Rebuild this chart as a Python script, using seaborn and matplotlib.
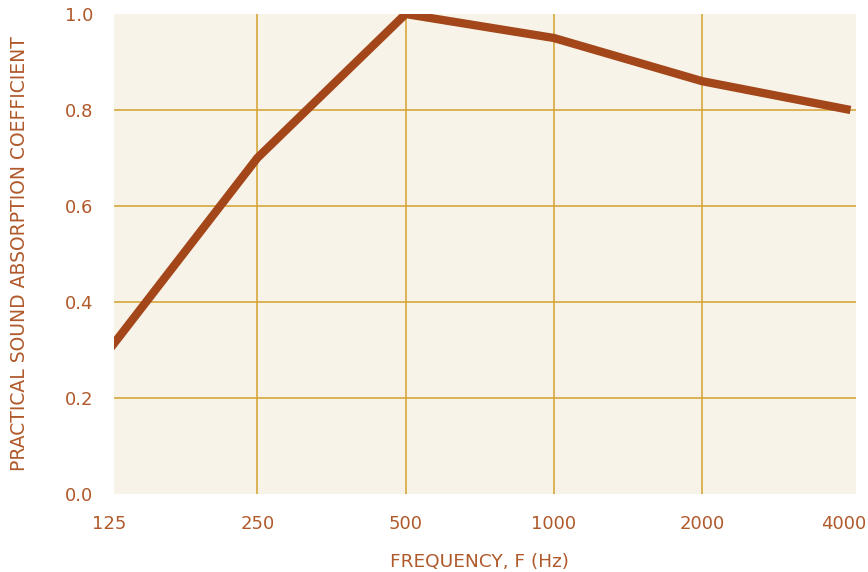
import numpy as np
import pandas as pd
import seaborn as sns
import matplotlib.pyplot as plt
import matplotlib.transforms as mtransforms
from matplotlib.ticker import FixedLocator, FixedFormatter, NullLocator

freqs = [125, 250, 500, 1000, 2000, 4000]
absorption = [0.30, 0.70, 1.00, 0.95, 0.86, 0.80]
y_ticks = [0.0, 0.2, 0.4, 0.6, 0.8, 1.0]

LINE = '#A3471A'
TEXT = '#B0592B'
GRID = '#D6A02E'
BG = '#F8F3E9'

sns.set_theme(style='white')
plt.rcParams['font.family'] = ['DejaVu Sans']

df = pd.DataFrame({'freq': freqs, 'alpha': absorption})

fig = plt.figure(figsize=(8.68, 5.72), dpi=100)
ax = fig.add_axes([114 / 868, 78 / 572, 742 / 868, 480 / 572])
ax.set_facecolor(BG)

sns.lineplot(data=df, x='freq', y='alpha', ax=ax, color=LINE, linewidth=6,
             solid_capstyle='butt', zorder=3)

# octave spacing ~148 px, 125 Hz sits just left of the panel
ax.set_xscale('log', base=2)
ax.set_xlim(125 * 2 ** (5 / 148.3), 4000 * 2 ** (5.5 / 148.3))
ax.set_ylim(0, 1.0)
ax.xaxis.set_major_locator(FixedLocator(freqs))
ax.xaxis.set_major_formatter(FixedFormatter([str(f) for f in freqs]))
ax.xaxis.set_minor_locator(NullLocator())
ax.set_yticks(y_ticks)
ax.set_yticklabels([f'{v:.1f}' for v in y_ticks])

ax.grid(True, color=GRID, linewidth=1.1, zorder=1)
ax.set_axisbelow(True)
# only interior grid lines
for gl in [ax.xaxis.get_gridlines()[-1], ax.yaxis.get_gridlines()[0], ax.yaxis.get_gridlines()[-1]]:
    gl.set_visible(False)
for s in ax.spines.values():
    s.set_visible(False)

ax.tick_params(axis='both', length=0, colors=TEXT, labelsize=13)
ax.tick_params(axis='x', pad=15)
ax.tick_params(axis='y', pad=15)

# last label sits a little left so it stays on the canvas
last = ax.xaxis.get_ticklabels()[-1]
last.set_transform(last.get_transform() + mtransforms.ScaledTranslation(-7 / 100, 0, fig.dpi_scale_trans))

# first tick falls outside the view limits, so label it by hand
ax.annotate(str(freqs[0]), xy=(freqs[0], 0), xycoords=('data', 'axes fraction'),
            xytext=(0, -15), textcoords='offset points', ha='center', va='top',
            color=TEXT, fontsize=13, annotation_clip=False)

ax.set_xlabel('FREQUENCY, F (Hz)', color=TEXT, fontsize=13.3, labelpad=14)
ax.xaxis.set_label_coords(0.493, -0.122)
ax.set_ylabel('PRACTICAL SOUND ABSORPTION COEFFICIENT', color=TEXT, fontsize=13.5, labelpad=26)

fig.savefig('out.png', dpi=100, facecolor='white')
